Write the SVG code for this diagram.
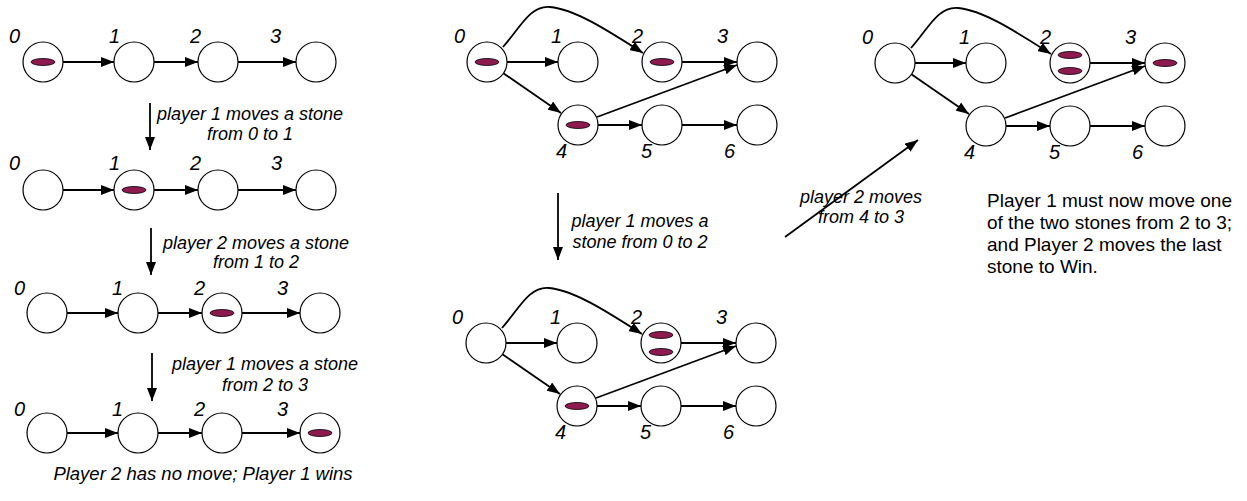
<svg xmlns="http://www.w3.org/2000/svg" width="1247" height="501" viewBox="0 0 1247 501">
  <style>
    .node { fill: #ffffff; stroke: #000000; stroke-width: 1.2; }
    .stone { fill: #8c1a4e; stroke: #000000; stroke-width: 0.8; }
    .edge { fill: none; stroke: #000000; stroke-width: 1.8; marker-end: url(#arrow); }
    .lbl { font-family: "Liberation Sans", Arial, sans-serif; font-style: italic; font-size: 20px; fill: #000000; }
    .note { font-family: "Liberation Sans", Arial, sans-serif; font-style: italic; font-size: 18px; fill: #000000; text-anchor: middle; }
    .plain { font-family: "Liberation Sans", Arial, sans-serif; font-size: 19px; fill: #000000; }
  </style>
  <defs>
    <marker id="arrow" markerUnits="userSpaceOnUse" viewBox="0 0 13 10" refX="13" refY="5" markerWidth="13" markerHeight="10" orient="auto">
      <path d="M0,0 L13,5 L0,10 z" fill="#000000"/>
    </marker>
  </defs>
  <rect width="1247" height="501" fill="#ffffff"/>

  <!-- connectors -->
  <g id="connectors">
    <!-- left chain, four states -->
    <path class="edge" d="M63,62 H114"/>
    <path class="edge" d="M154,62 H198"/>
    <path class="edge" d="M238,62 H296"/>
    <path class="edge" d="M63,190 H114"/>
    <path class="edge" d="M154,190 H198"/>
    <path class="edge" d="M238,190 H296"/>
    <path class="edge" d="M67,313 H118"/>
    <path class="edge" d="M158,313 H202"/>
    <path class="edge" d="M242,313 H300"/>
    <path class="edge" d="M67,433 H118"/>
    <path class="edge" d="M158,433 H202"/>
    <path class="edge" d="M242,433 H300"/>
    <path class="edge" d="M150,103 V150"/>
    <path class="edge" d="M151,228 V275"/>
    <path class="edge" d="M152,353 V401"/>
    <!-- middle graph, top -->
    <path class="edge" d="M507,62 H558"/>
    <path class="edge" d="M503,73 L561,113"/>
    <path class="edge" d="M503,47 C520,28 530,5 550,7 C575,9 610,32 643,53"/>
    <path class="edge" d="M682,62 H737"/>
    <path class="edge" d="M597,117 L737,65"/>
    <path class="edge" d="M598,125 H642"/>
    <path class="edge" d="M682,125 H737"/>
    <!-- step arrow between top and bottom graphs -->
    <path class="edge" d="M558,193 V260"/>
    <!-- middle graph, bottom -->
    <path class="edge" d="M506,343 H557"/>
    <path class="edge" d="M502,354 L560,394"/>
    <path class="edge" d="M502,328 C519,309 529,286 549,288 C574,290 609,313 642,334"/>
    <path class="edge" d="M681,343 H736"/>
    <path class="edge" d="M596,398 L736,346"/>
    <path class="edge" d="M597,406 H641"/>
    <path class="edge" d="M681,406 H736"/>
    <!-- diagonal step arrow -->
    <path class="edge" d="M785,237 L918,140"/>
    <!-- right graph -->
    <path class="edge" d="M915,63 H966"/>
    <path class="edge" d="M911,74 L969,114"/>
    <path class="edge" d="M911,48 C928,29 938,6 958,8 C983,10 1018,33 1051,54"/>
    <path class="edge" d="M1090,63 H1145"/>
    <path class="edge" d="M1005,118 L1145,66"/>
    <path class="edge" d="M1006,126 H1050"/>
    <path class="edge" d="M1090,126 H1145"/>
  </g>

  <!-- left chain, state 1 -->
  <g id="a0"><circle class="node" cx="43" cy="62" r="20"/><ellipse class="stone" cx="43" cy="62" rx="12" ry="3.5"/><text class="lbl" x="9" y="43">0</text></g>
  <g id="a1"><circle class="node" cx="134" cy="62" r="20"/><text class="lbl" x="109" y="43">1</text></g>
  <g id="a2"><circle class="node" cx="218" cy="62" r="20"/><text class="lbl" x="190" y="43">2</text></g>
  <g id="a3"><circle class="node" cx="316" cy="62" r="20"/><text class="lbl" x="270" y="43">3</text></g>

  <!-- left chain, state 2 -->
  <g id="b0"><circle class="node" cx="43" cy="190" r="20"/><text class="lbl" x="9" y="170">0</text></g>
  <g id="b1"><circle class="node" cx="134" cy="190" r="20"/><ellipse class="stone" cx="134" cy="190" rx="12" ry="3.5"/><text class="lbl" x="109" y="170">1</text></g>
  <g id="b2"><circle class="node" cx="218" cy="190" r="20"/><text class="lbl" x="190" y="170">2</text></g>
  <g id="b3"><circle class="node" cx="316" cy="190" r="20"/><text class="lbl" x="271" y="170">3</text></g>

  <!-- left chain, state 3 -->
  <g id="c0"><circle class="node" cx="47" cy="313" r="20"/><text class="lbl" x="14" y="295">0</text></g>
  <g id="c1"><circle class="node" cx="138" cy="313" r="20"/><text class="lbl" x="112" y="295">1</text></g>
  <g id="c2"><circle class="node" cx="222" cy="313" r="20"/><ellipse class="stone" cx="222" cy="313" rx="12" ry="3.5"/><text class="lbl" x="194" y="295">2</text></g>
  <g id="c3"><circle class="node" cx="320" cy="313" r="20"/><text class="lbl" x="277" y="295">3</text></g>

  <!-- left chain, state 4 -->
  <g id="d0"><circle class="node" cx="47" cy="433" r="20"/><text class="lbl" x="14" y="416">0</text></g>
  <g id="d1"><circle class="node" cx="138" cy="433" r="20"/><text class="lbl" x="112" y="416">1</text></g>
  <g id="d2"><circle class="node" cx="222" cy="433" r="20"/><text class="lbl" x="194" y="416">2</text></g>
  <g id="d3"><circle class="node" cx="320" cy="433" r="20"/><ellipse class="stone" cx="320" cy="433" rx="12" ry="3.5"/><text class="lbl" x="277" y="416">3</text></g>

  <!-- left chain notes -->
  <g id="note-left">
    <text class="note" x="250" y="120">player 1 moves a stone</text>
    <text class="note" x="250" y="140">from 0 to 1</text>
    <text class="note" x="256" y="249">player 2 moves a stone</text>
    <text class="note" x="256" y="268">from 1 to 2</text>
    <text class="note" x="265" y="370">player 1 moves a stone</text>
    <text class="note" x="265" y="391">from 2 to 3</text>
    <text class="note" x="203" y="480" style="font-size:18.5px">Player 2 has no move; Player 1 wins</text>
  </g>

  <!-- middle graph, top -->
  <g id="m0"><circle class="node" cx="487" cy="62" r="20"/><ellipse class="stone" cx="487" cy="62" rx="12" ry="3.5"/><text class="lbl" x="454" y="43">0</text></g>
  <g id="m1"><circle class="node" cx="578" cy="62" r="20"/><text class="lbl" x="551" y="43">1</text></g>
  <g id="m2"><circle class="node" cx="662" cy="62" r="20"/><ellipse class="stone" cx="662" cy="62" rx="12" ry="3.5"/><text class="lbl" x="632" y="43">2</text></g>
  <g id="m3"><circle class="node" cx="757" cy="62" r="20"/><text class="lbl" x="717" y="43">3</text></g>
  <g id="m4"><circle class="node" cx="578" cy="125" r="20"/><ellipse class="stone" cx="578" cy="125" rx="12" ry="3.5"/><text class="lbl" x="556" y="158">4</text></g>
  <g id="m5"><circle class="node" cx="662" cy="125" r="20"/><text class="lbl" x="641" y="158">5</text></g>
  <g id="m6"><circle class="node" cx="757" cy="125" r="20"/><text class="lbl" x="724" y="158">6</text></g>

  <g id="note-middle">
    <text class="note" x="640" y="227">player 1 moves a</text>
    <text class="note" x="640" y="248">stone from 0 to 2</text>
  </g>

  <!-- middle graph, bottom -->
  <g id="n0"><circle class="node" cx="486" cy="343" r="20"/><text class="lbl" x="452" y="324">0</text></g>
  <g id="n1"><circle class="node" cx="577" cy="343" r="20"/><text class="lbl" x="550" y="324">1</text></g>
  <g id="n2"><circle class="node" cx="661" cy="343" r="20"/><ellipse class="stone" cx="661" cy="335" rx="12" ry="3.5"/><ellipse class="stone" cx="661" cy="352" rx="12" ry="3.5"/><text class="lbl" x="631" y="324">2</text></g>
  <g id="n3"><circle class="node" cx="756" cy="343" r="20"/><text class="lbl" x="716" y="324">3</text></g>
  <g id="n4"><circle class="node" cx="577" cy="406" r="20"/><ellipse class="stone" cx="577" cy="406" rx="12" ry="3.5"/><text class="lbl" x="555" y="439">4</text></g>
  <g id="n5"><circle class="node" cx="661" cy="406" r="20"/><text class="lbl" x="640" y="439">5</text></g>
  <g id="n6"><circle class="node" cx="756" cy="406" r="20"/><text class="lbl" x="723" y="439">6</text></g>

  <g id="note-diagonal">
    <text class="note" x="861" y="203">player 2 moves</text>
    <text class="note" x="861" y="223">from 4 to 3</text>
  </g>

  <!-- right graph -->
  <g id="r0"><circle class="node" cx="895" cy="63" r="20"/><text class="lbl" x="862" y="44">0</text></g>
  <g id="r1"><circle class="node" cx="986" cy="63" r="20"/><text class="lbl" x="959" y="44">1</text></g>
  <g id="r2"><circle class="node" cx="1070" cy="63" r="20"/><ellipse class="stone" cx="1070" cy="55" rx="12" ry="3.5"/><ellipse class="stone" cx="1070" cy="71" rx="12" ry="3.5"/><text class="lbl" x="1040" y="44">2</text></g>
  <g id="r3"><circle class="node" cx="1165" cy="63" r="20"/><ellipse class="stone" cx="1165" cy="63" rx="12" ry="3.5"/><text class="lbl" x="1125" y="44">3</text></g>
  <g id="r4"><circle class="node" cx="986" cy="126" r="20"/><text class="lbl" x="964" y="159">4</text></g>
  <g id="r5"><circle class="node" cx="1070" cy="126" r="20"/><text class="lbl" x="1049" y="159">5</text></g>
  <g id="r6"><circle class="node" cx="1165" cy="126" r="20"/><text class="lbl" x="1132" y="159">6</text></g>

  <g id="note-right">
    <text class="plain" x="987" y="207">Player 1 must now move one</text>
    <text class="plain" x="987" y="229">of the two stones from 2 to 3;</text>
    <text class="plain" x="987" y="251">and Player 2 moves the last</text>
    <text class="plain" x="987" y="273">stone to Win.</text>
  </g>
</svg>
